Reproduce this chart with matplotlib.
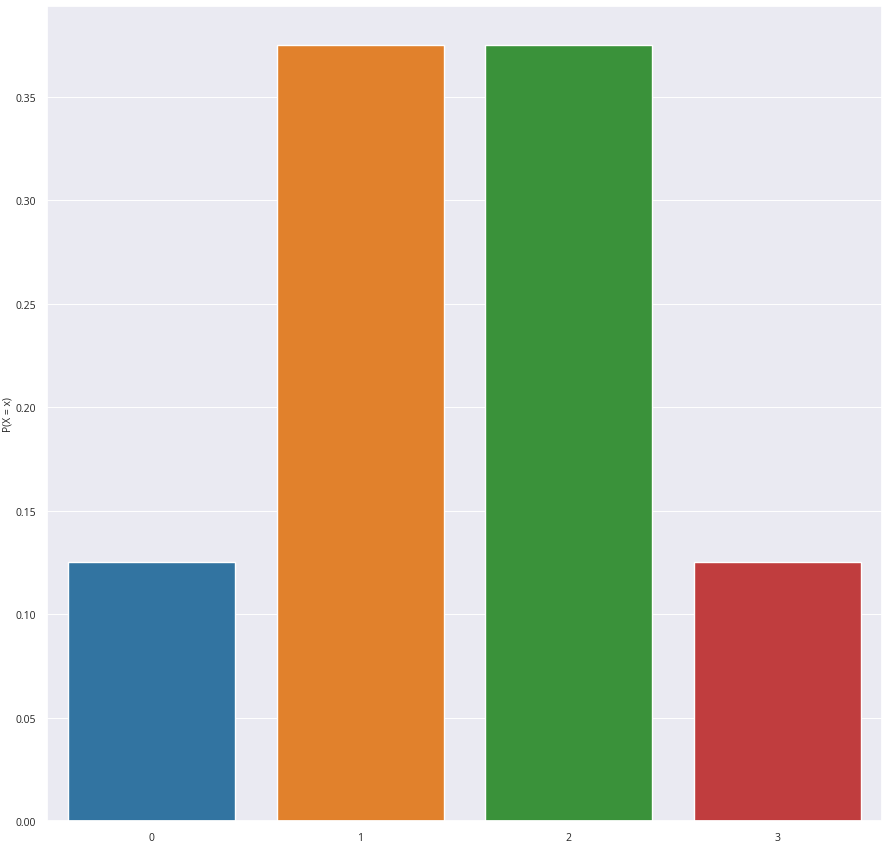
import numpy as np
import matplotlib
matplotlib.use("Agg")
import matplotlib.pyplot as plt
import seaborn as sns

sns.set_theme(style="darkgrid")
plt.rcParams['font.family'] = ['Open Sans', 'DejaVu Sans']

x_vals = ["0", "1", "2", "3"]
probs = [0.125, 0.375, 0.375, 0.125]
colors = ["#3274a1", "#e1812c", "#3a923a", "#c03d3e"]

fig = plt.figure(figsize=(8.9, 8.45), dpi=100)
ax = fig.add_axes([0.0528, 0.0272, 0.9382, 0.9645])
ax.bar(x_vals, probs, width=0.8, color=colors)
ax.set_xlim(-0.5, 3.5)
ax.set_ylim(0, 0.375 * 1.05)
ax.set_yticks(np.arange(0, 0.36, 0.05))
ax.grid(axis="x", visible=False)
ax.grid(axis="y", linewidth=0.7)
ax.tick_params(labelsize=7.5, colors="#262626", pad=2)
ax.set_ylabel("P(X = x)", fontsize=7.5)
ax.yaxis.set_label_coords(-0.04, 0.5)
fig.savefig("out.png", dpi=100)
